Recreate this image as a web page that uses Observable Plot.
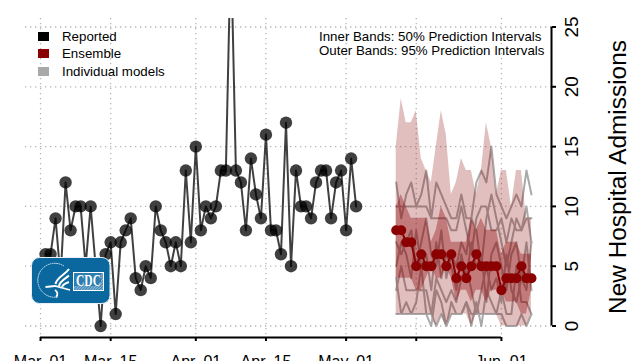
<!DOCTYPE html>
<html><head><meta charset="utf-8">
<script src="https://cdn.jsdelivr.net/npm/d3@7"></script>
<script src="https://cdn.jsdelivr.net/npm/@observablehq/plot@0.6"></script>
<style>
html,body{margin:0;padding:0;background:#fff;overflow:hidden}
#wrap{position:relative;width:637px;height:361px;overflow:hidden;font-family:"Liberation Sans",Arial,sans-serif;color:#000}
#wrap svg{display:block}
.t{position:absolute;white-space:pre;font-size:13.3px;line-height:14px}
.s{position:absolute;left:38px;width:11px;height:9px}
#title{position:absolute;left:618px;top:177px;transform:translate(-50%,-50%) rotate(-90deg);font-size:24.4px;white-space:pre}
</style></head><body><div id="wrap"></div>
<script>
const reportedStart = "2021-03-02";
const reported = [6,6,9,4,12,8,10,10,5,10,5,0,6,7,1,7,8,9,4,3,5,4,10,8,7,5,7,5,13,7,15,8,10,9,10,13,13,32,13,12,8,14,11,9,16,8,8,6,17,5,13,10,10,9,12,13,13,9,12,13,8,14,10];
const forecastStart = "2021-05-11";
const ensemble = [8,8,7,7,5,6,5,5,6,6,5,6,4,5,4,5,6,5,5,5,5,3,4,4,4,5,4,4];
const outerHi = [15,19,17,17,18,14,13,12,15,18,16,11,12,14,13,13,11,13,17,15,11,13,13,10,13,13,9,9];
const outerLo = [1,1,1,1,1,1,1,1,0,1,0,1,1,1,1,0,1,1,1,1,1,0,0,0,0,0,0,1];
const innerHi = [10,11,10,9,9,9,9,7,8,10,9,7,7,7,7,9,8,9,8,8,8,6,7,7,7,6,6,6];
const innerLo = [4,4,4,4,3,3,4,5,4,4,5,4,2,3,3,2,3,3,2,3,3,3,2,2,2,1,1,3];
const model1 = [12,9,11,12,10,11,13,9,12,11,10,9,9,11,9,9,12,13,12,15,11,10,9,10,11,10,13,11];
const model2 = [10,10,10,10,10,10,10,9,9,9,9,8,8,10,8,6,9,10,10,8,8,9,7,9,8,8,9,9];
const model3 = [7,6,7,8,5,7,9,6,5,8,4,6,5,7,6,9,8,5,9,11,9,7,5,7,9,8,10,7];
const model4 = [5,7,6,4,8,5,6,3,7,4,6,5,3,6,4,7,5,6,2,6,7,5,3,6,7,4,3,7];
const model5 = [3,5,3,3,3,3,3,1,4,3,2,3,2,4,5,3,1,3,5,3,4,2,6,3,2,4,7,3];
const model6 = [4,1,2,1,2,5,1,0,3,2,0,2,1,1,2,0,2,0,3,2,1,3,1,1,5,2,2,1];
const model7 = [1,1,1,1,1,1,1,1,0,1,0,1,1,1,2,1,1,1,1,1,1,1,0,0,0,1,0,1];
const tickDates = ["2021-03-01","2021-03-15","2021-04-01","2021-04-15","2021-05-01","2021-05-15","2021-06-01"];
const tickLabels = ["Mar. 01","Mar. 15","Apr. 01","Apr. 15","May. 01","","Jun. 01"];
const yTicks = [0,5,10,15,20,25];

const day = (s,i)=>d3.utcDay.offset(new Date(s+"T00:00:00Z"),i);
const rep = reported.map((v,i)=>({d:day(reportedStart,i),v}));
const fc = ensemble.map((v,i)=>({d:day(forecastStart,i),v,oh:outerHi[i],ol:outerLo[i],ih:innerHi[i],il:innerLo[i]}));
const models = [model1,model2,model3,model4,model5,model6,model7].flatMap((m,j)=>m.map((v,i)=>({d:day(forecastStart,i),v,m:j})));
const ticks = tickDates.map(s=>new Date(s+"T00:00:00Z"));
const yBase = -0.96, yTop = 25.71;
const fmt = d=>tickLabels[ticks.findIndex(t=>+t===+d)];
const dots = {stroke:"#b4b4b4",strokeWidth:1.3,strokeDasharray:"1.3,3.7"};
const dark = "#8b0000";

const plot = Plot.plot({
  width:637,height:361,marginTop:18,marginBottom:24,marginLeft:25,marginRight:86,
  style:{background:"transparent",fontFamily:'"Liberation Sans",Arial,sans-serif',color:"#000",overflow:"visible"},
  x:{type:"utc",domain:[new Date("2021-02-26T00:00:00Z"),new Date("2021-06-11T00:00:00Z")]},
  y:{type:"linear",domain:[yBase,yTop]},
  marks:[
    Plot.ruleY(yTicks,{...dots}),
    Plot.ruleX(ticks,{...dots}),
    Plot.line(models,{x:"d",y:"v",z:"m",stroke:"#a9a9a9",strokeWidth:2,clip:true}),
    Plot.areaY(fc,{x:"d",y1:"ol",y2:"oh",fill:dark,fillOpacity:0.25}),
    Plot.areaY(fc,{x:"d",y1:"il",y2:"ih",fill:dark,fillOpacity:0.36}),
    Plot.line(rep,{x:"d",y:"v",stroke:"#000",strokeOpacity:0.75,strokeWidth:2,clip:true}),
    Plot.dot(rep,{x:"d",y:"v",r:6.2,fill:"#000",fillOpacity:0.75,clip:true}),
    Plot.line(fc,{x:"d",y:"v",stroke:dark,strokeWidth:2}),
    Plot.dot(fc,{x:"d",y:"v",r:5,fill:dark}),
    Plot.ruleY([yBase],{x1:ticks[0],x2:ticks[6],stroke:"#000",strokeWidth:2}),
    Plot.axisX({ticks,tickFormat:fmt,label:null,tickSize:4,tickPadding:14,fontSize:16,stroke:"#000",strokeWidth:2}),
    Plot.ruleX([new Date("2021-06-11T00:00:00Z")],{y1:0,y2:25,stroke:"#000",strokeWidth:2}),
    Plot.axisY({anchor:"right",ticks:yTicks,label:null,tickSize:4,tickPadding:22,tickRotate:-90,textAnchor:"middle",fontSize:19,stroke:"#000",strokeWidth:2}),
  ]
});
const wrap = document.getElementById("wrap");
wrap.appendChild(plot);
const add=(cls,txt,css)=>{const e=document.createElement("div");e.className=cls;e.textContent=txt;Object.assign(e.style,css);wrap.appendChild(e);return e};
[["#000",32],["#8b0000",49],["#a9a9a9",67]].forEach(([c,y])=>add("s","",{top:y+"px",background:c}));
[["Reported",29.5],["Ensemble",46.5],["Individual models",64.5]].forEach(([t,y])=>add("t",t,{left:"62px",top:y+"px"}));
add("t","Inner Bands: 50% Prediction Intervals",{left:"319px",top:"29.5px"});
add("t","Outer Bands: 95% Prediction Intervals",{left:"319px",top:"43.5px"});
const ti=add("","New Hospital Admissions",{});ti.id="title";
const logo=document.createElementNS("http://www.w3.org/2000/svg","svg");
logo.setAttribute("width","80");logo.setAttribute("height","48");logo.style.cssText="position:absolute;left:30.5px;top:256.5px";
logo.innerHTML=`<defs><pattern id="h" width="2" height="2" patternUnits="userSpaceOnUse" patternTransform="rotate(45)"><rect width="2" height="2" fill="#3a85b6"/><rect width="1" height="2" fill="#8fb8d6"/></pattern></defs>
<rect x=".5" y=".5" width="78.5" height="46" rx="8" fill="#0a689f" stroke="#e8f1f7" stroke-width="1"/>
<path d="M33 9A17 17 0 1 0 27 40" fill="none" stroke="#d8e6f0" stroke-width="1" stroke-dasharray="1.6 .6"/>
<path d="M38 12C34 18 26 20 24.5 27M38 18.5C34 22 29 24 28 29M38 25C35 26 32 27 31 30" fill="none" stroke="#fff" stroke-width="2"/>
<path d="M14.5 30L24 29L39 33M24 33C27 35 27 38 25 40" fill="none" stroke="#fff" stroke-width="1.8"/>
<rect x="42.5" y="15.5" width="30" height="18" fill="url(#h)" stroke="#fff"/>
<rect x="43" y="16" width="27" height="13" fill="#1f76ab" opacity=".8"/>
<text x="57.5" y="29" text-anchor="middle" fill="#fff" font-family="Liberation Serif,serif" font-weight="700" font-size="16" textLength="25" lengthAdjust="spacingAndGlyphs">CDC</text>`;
wrap.appendChild(logo);
</script></body></html>
